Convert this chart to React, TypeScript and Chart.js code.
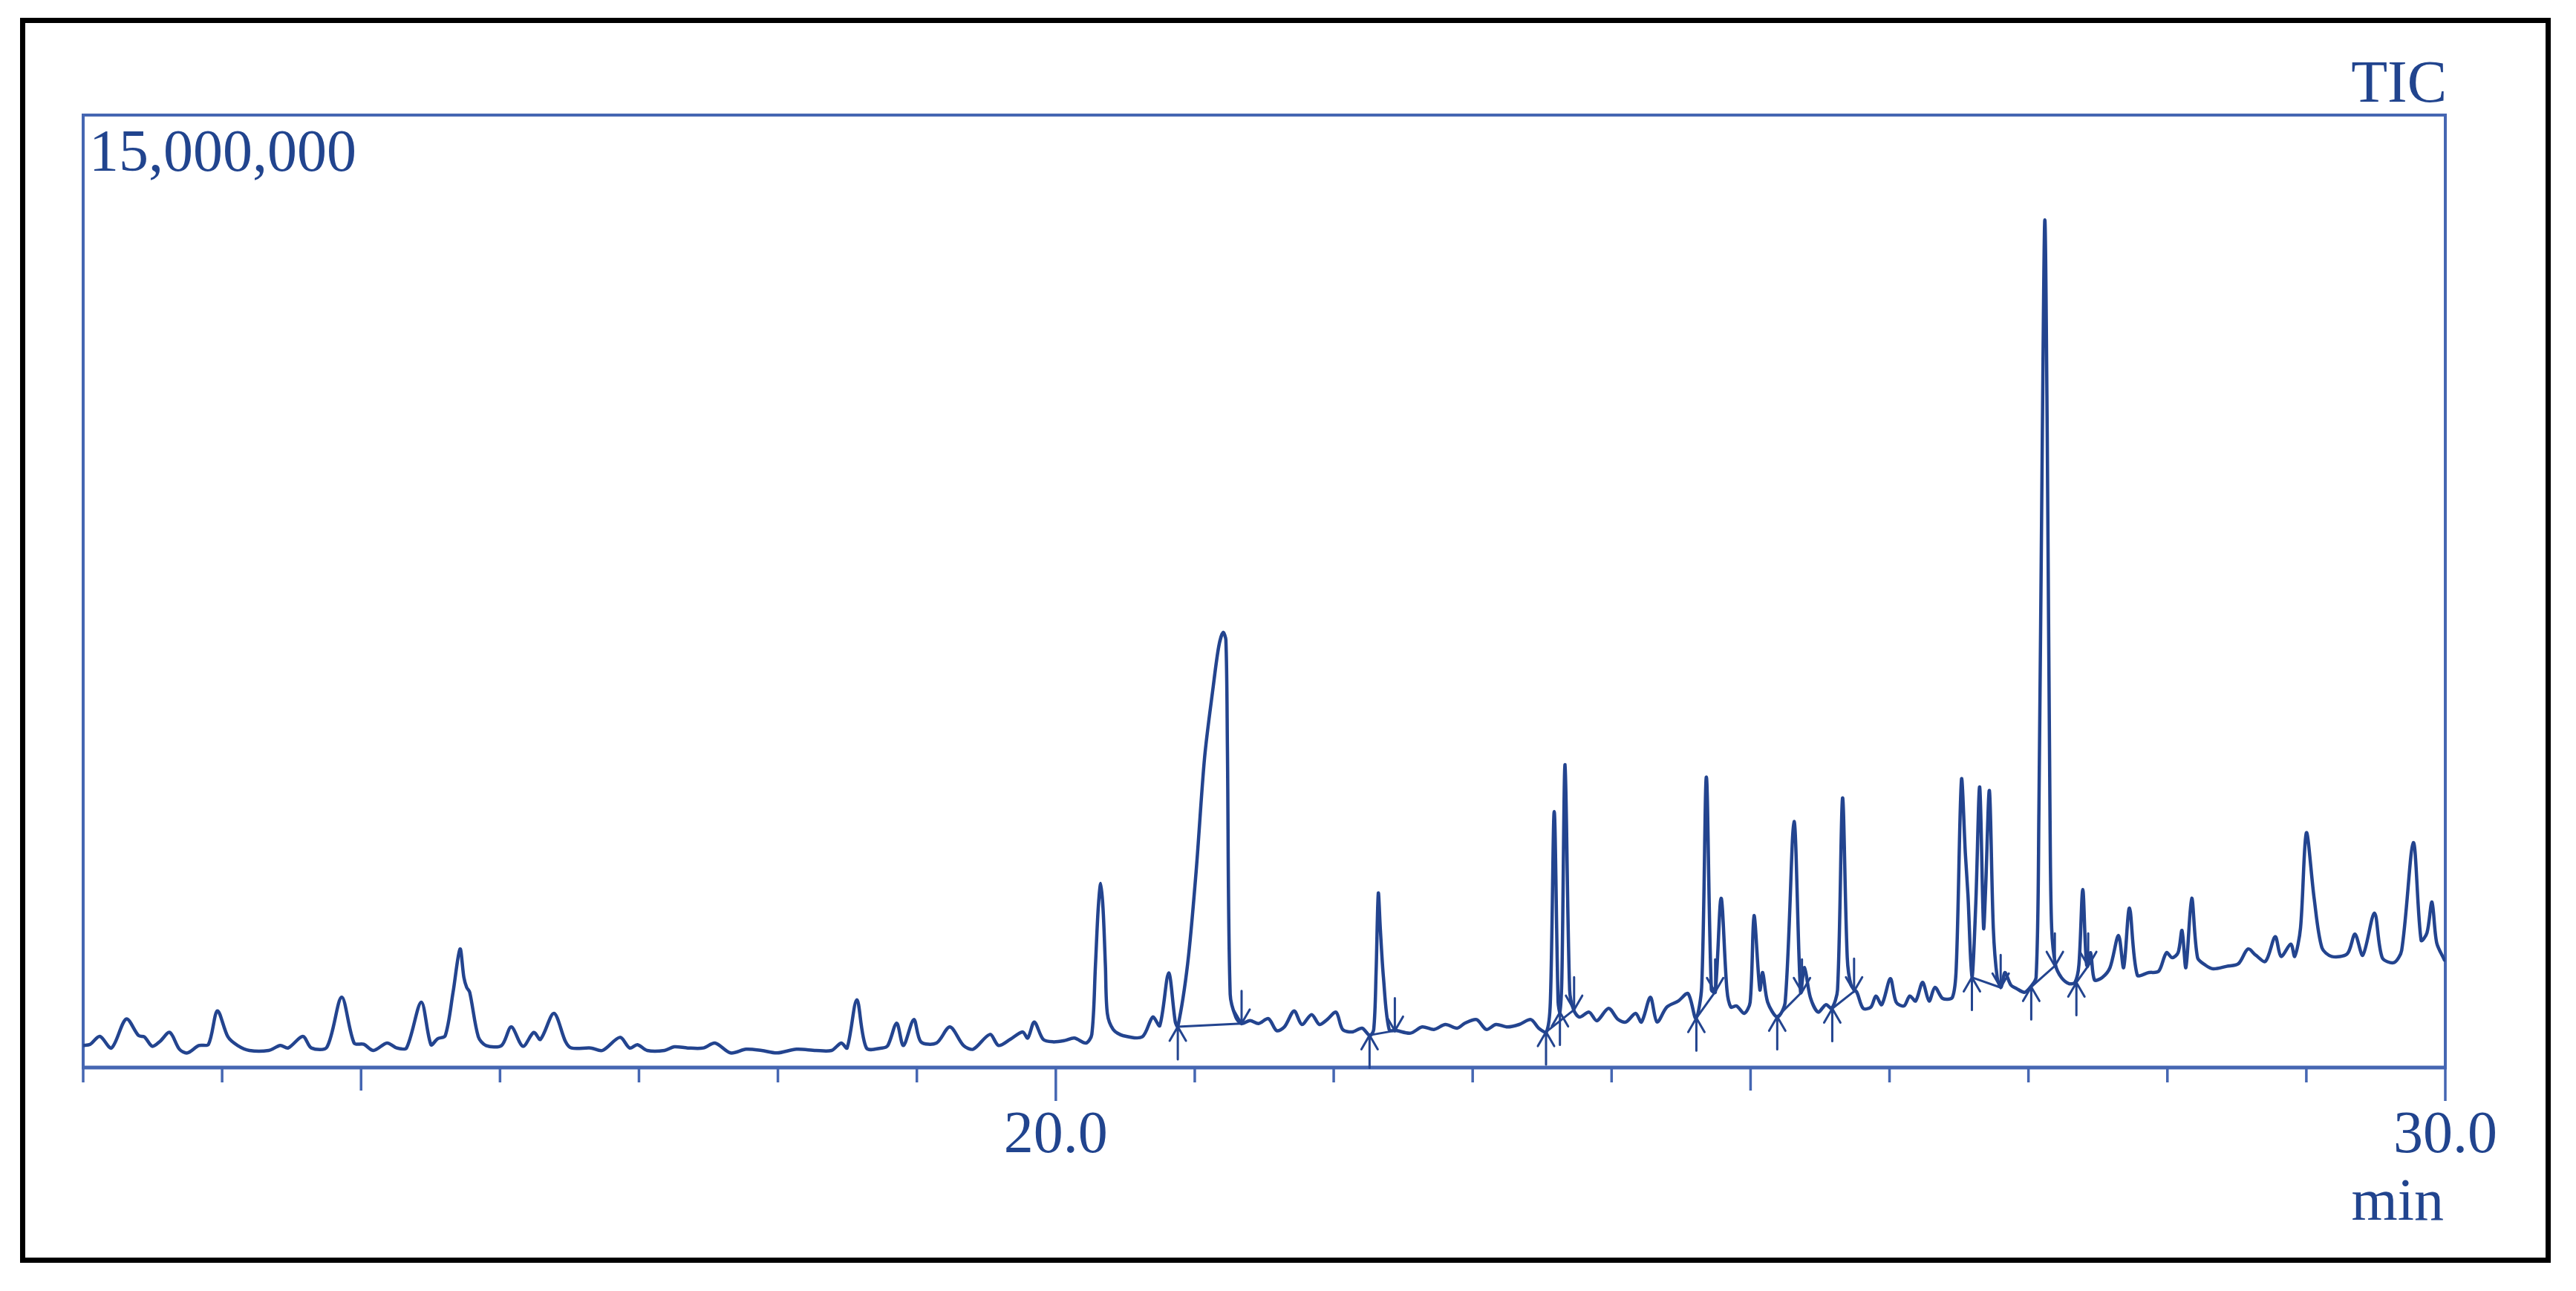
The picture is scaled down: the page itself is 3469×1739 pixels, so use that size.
import React, { useEffect, useRef } from "react";
import { Chart, registerables } from "chart.js";

Chart.register(...registerables);

// Retention time (min) and TIC intensity (millions of counts)
const retentionTime = [
  13.0, 13.05, 13.12, 13.204, 13.31, 13.399, 13.441, 13.497, 13.553, 13.623, 13.693, 13.749, 13.832, 13.902,
  13.966, 14.042, 14.112, 14.196, 14.335, 14.419, 14.475, 14.581, 14.642, 14.754, 14.86, 14.95, 15.02, 15.089,
  15.187, 15.257, 15.327, 15.433, 15.503, 15.55, 15.606, 15.662, 15.712, 15.74, 15.76, 15.782, 15.844, 15.899,
  16.011, 16.081, 16.165, 16.243, 16.291, 16.388, 16.472, 16.514, 16.654, 16.737, 16.863, 16.933, 16.989, 17.059,
  17.184, 17.254, 17.351, 17.463, 17.547, 17.659, 17.771, 17.883, 17.994, 18.134, 18.274, 18.386, 18.456, 18.498,
  18.568, 18.637, 18.749, 18.791, 18.855, 18.903, 18.978, 19.029, 19.141, 19.238, 19.336, 19.406, 19.526, 19.588,
  19.672, 19.761, 19.798, 19.845, 19.909, 19.979, 20.063, 20.133, 20.217, 20.259, 20.285, 20.305, 20.323, 20.34,
  20.357, 20.371, 20.413, 20.483, 20.622, 20.698, 20.748, 20.812, 20.86, 20.878, 20.949, 21.01, 21.071, 21.133,
  21.173, 21.204, 21.224, 21.235, 21.255, 21.296, 21.337, 21.398, 21.459, 21.53, 21.589, 21.645, 21.715, 21.771,
  21.841, 21.897, 21.953, 22.017, 22.064, 22.134, 22.204, 22.26, 22.288, 22.305, 22.321, 22.335, 22.358, 22.399,
  22.455, 22.553, 22.637, 22.721, 22.804, 22.888, 22.944, 23.028, 23.098, 23.168, 23.251, 23.335, 23.419, 23.475,
  23.531, 23.559, 23.587, 23.615, 23.628, 23.642, 23.665, 23.698, 23.726, 23.768, 23.838, 23.894, 23.978, 24.047,
  24.103, 24.173, 24.215, 24.279, 24.327, 24.397, 24.48, 24.55, 24.606, 24.648, 24.682, 24.718, 24.746, 24.788,
  24.83, 24.858, 24.899, 24.955, 24.997, 25.025, 25.067, 25.087, 25.123, 25.193, 25.249, 25.313, 25.36, 25.388,
  25.43, 25.486, 25.542, 25.584, 25.626, 25.662, 25.696, 25.723, 25.765, 25.81, 25.866, 25.902, 25.944, 26.006,
  26.048, 26.104, 26.146, 26.188, 26.238, 26.285, 26.327, 26.383, 26.453, 26.481, 26.518, 26.546, 26.565, 26.593,
  26.621, 26.649, 26.677, 26.691, 26.719, 26.747, 26.775, 26.803, 26.831, 26.873, 26.915, 26.971, 27.013, 27.055,
  27.075, 27.1, 27.118, 27.135, 27.155, 27.167, 27.195, 27.237, 27.293, 27.335, 27.363, 27.391, 27.419, 27.447,
  27.475, 27.531, 27.587, 27.648, 27.685, 27.727, 27.783, 27.867, 27.937, 27.993, 28.035, 28.077, 28.105, 28.133,
  28.175, 28.217, 28.273, 28.329, 28.427, 28.51, 28.58, 28.636, 28.706, 28.776, 28.818, 28.888, 28.916, 28.958,
  29.0, 29.056, 29.112, 29.182, 29.294, 29.35, 29.406, 29.49, 29.546, 29.63, 29.686, 29.77, 29.826, 29.868,
  29.904, 29.938, 29.994,
];

const ticMillions = [
  0.347, 0.366, 0.491, 0.308, 0.764, 0.503, 0.483, 0.335, 0.413, 0.553, 0.288, 0.23, 0.347, 0.366,
  0.892, 0.483, 0.347, 0.269, 0.269, 0.347, 0.308, 0.491, 0.308, 0.32, 1.107, 0.386, 0.366, 0.269,
  0.386, 0.308, 0.308, 1.029, 0.359, 0.452, 0.503, 1.185, 1.867, 1.418, 1.263, 1.185, 0.483, 0.347,
  0.347, 0.639, 0.335, 0.553, 0.444, 0.853, 0.405, 0.308, 0.308, 0.269, 0.475, 0.308, 0.359, 0.269,
  0.269, 0.327, 0.308, 0.308, 0.386, 0.23, 0.289, 0.269, 0.23, 0.289, 0.269, 0.269, 0.386, 0.308,
  1.068, 0.308, 0.308, 0.347, 0.698, 0.347, 0.756, 0.405, 0.386, 0.639, 0.347, 0.289, 0.522, 0.347,
  0.444, 0.561, 0.464, 0.717, 0.444, 0.405, 0.425, 0.464, 0.386, 0.522, 1.6, 2.5, 2.899, 2.5,
  1.6, 0.85, 0.6, 0.503, 0.483, 0.795, 0.659, 1.489, 0.717, 0.643, 1.638, 3.093, 4.888, 6.003,
  6.635, 6.852, 6.732, 5.033, 1.153, 0.789, 0.692, 0.74, 0.692, 0.77, 0.581, 0.639, 0.892, 0.678,
  0.834, 0.678, 0.756, 0.873, 0.6, 0.561, 0.62, 0.503, 0.6, 1.5, 2.744, 2.2, 1.418, 0.6,
  0.581, 0.542, 0.639, 0.6, 0.678, 0.62, 0.698, 0.756, 0.6, 0.678, 0.639, 0.678, 0.756, 0.62,
  0.561, 1.029, 4.03, 1.029, 0.873, 1.418, 4.77, 1.224, 0.912, 0.795, 0.873, 0.737, 0.932, 0.756,
  0.717, 0.853, 0.717, 1.107, 0.717, 0.951, 1.048, 1.165, 0.776, 1.263, 4.575, 1.224, 1.185, 2.666,
  1.224, 0.951, 0.97, 0.853, 1.029, 2.393, 1.224, 1.496, 1.029, 0.795, 1.029, 3.874, 1.185, 1.574,
  1.107, 0.873, 0.99, 0.932, 1.224, 4.244, 1.73, 1.301, 1.185, 0.932, 0.951, 1.126, 0.99, 1.399,
  1.029, 0.97, 1.126, 1.048, 1.341, 1.048, 1.263, 1.087, 1.107, 1.613, 4.536, 3.367, 2.704, 1.418,
  2.587, 4.419, 2.198, 2.782, 4.361, 2.198, 1.418, 1.263, 1.496, 1.301, 1.243, 1.185, 1.263, 1.418,
  4.0, 10.0, 13.35, 10.0, 4.0, 2.198, 1.613, 1.418, 1.321, 1.341, 1.613, 2.802, 1.613, 1.808,
  1.38, 1.418, 1.574, 2.081, 1.574, 2.51, 1.458, 1.496, 1.516, 1.808, 1.73, 1.808, 2.159, 1.574,
  2.666, 1.73, 1.613, 1.555, 1.594, 1.633, 1.867, 1.769, 1.672, 2.061, 1.75, 1.944, 1.75, 2.198,
  3.698, 2.666, 1.886, 1.75, 1.789, 2.101, 1.769, 2.432, 1.73, 1.652, 1.847, 3.542, 2.003, 2.12,
  2.607, 1.964, 1.692,
];

// Integration markers: peak start (up arrows) and peak end (down arrows)
const peakStartTime = [20.878, 22.258, 23.528, 23.628, 24.61, 25.192, 25.588, 26.593, 27.02, 27.345];
const peakStartLevel = [0.643, 0.51, 0.56, 0.87, 0.78, 0.8, 0.93, 1.42, 1.27, 1.34];
const peakEndTime = [21.337, 22.44, 23.73, 24.745, 25.37, 25.745, 26.8, 27.19, 27.43];
const peakEndLevel = [0.692, 0.58, 0.91, 1.19, 1.19, 1.2, 1.26, 1.6, 1.6];
// Baselines joining start index -> end index
const baselineStartIdx = [0, 1, 2, 4, 5, 6, 7, 8, 9];
const baselineEndIdx = [0, 1, 2, 3, 4, 5, 6, 7, 8];

// Axis
const xMin = 13.0;
const xMax = 30.0;
const yMaxMillions = 15;
const minuteTicks = [13, 14, 15, 16, 17, 18, 19, 20, 21, 22, 23, 24, 25, 26, 27, 28, 29, 30];
const midTicks = [15, 25];
const labelledTicks = [20, 30];
const labelledTickText = ["20.0", "30.0"];
const yMaxLabel = "15,000,000";
const traceLabel = "TIC";
const xUnit = "min";

const AXIS_COLOR = "#4566b2";
const TRACE_COLOR = "#23448f";
const TEXT_COLOR = "#21448e";
const FONT = '80px "Liberation Serif", "Times New Roman", serif';

const decorPlugin = {
  id: "decor",
  beforeDraw(chart: any) {
    const ctx = chart.ctx;
    ctx.save();
    ctx.fillStyle = "#ffffff";
    ctx.fillRect(0, 0, chart.width, chart.height);
    ctx.restore();
  },
  beforeDatasetsDraw(chart: any) {
    const ctx = chart.ctx;
    const xs = chart.scales.x;
    const ys = chart.scales.y;
    const left = xs.getPixelForValue(xMin);
    const right = xs.getPixelForValue(xMax);
    const top = ys.getPixelForValue(yMaxMillions);
    const bottom = ys.getPixelForValue(0);
    ctx.save();
    // outer black frame
    ctx.strokeStyle = "#000000";
    ctx.lineWidth = 7;
    ctx.strokeRect(30.5, 27.5, 3401, 1670);
    // plot box
    ctx.strokeStyle = AXIS_COLOR;
    ctx.lineWidth = 4;
    ctx.beginPath();
    ctx.moveTo(left, bottom);
    ctx.lineTo(left, top);
    ctx.lineTo(right, top);
    ctx.lineTo(right, bottom);
    ctx.stroke();
    ctx.lineWidth = 5;
    ctx.beginPath();
    ctx.moveTo(left - 2, bottom);
    ctx.lineTo(right + 2, bottom);
    ctx.stroke();
    // ticks
    ctx.lineWidth = 3.5;
    minuteTicks.forEach((t) => {
      const x = xs.getPixelForValue(t);
      let len = 20;
      if (midTicks.includes(t)) len = 31;
      if (labelledTicks.includes(t)) len = 45;
      ctx.beginPath();
      ctx.moveTo(x, bottom);
      ctx.lineTo(x, bottom + len);
      ctx.stroke();
    });
    // texts
    ctx.fillStyle = TEXT_COLOR;
    ctx.font = FONT;
    ctx.textBaseline = "alphabetic";
    ctx.textAlign = "center";
    labelledTicks.forEach((t, i) => {
      ctx.fillText(labelledTickText[i], xs.getPixelForValue(t), bottom + 114);
    });
    ctx.textAlign = "right";
    ctx.fillText(xUnit, right - 2, bottom + 205);
    ctx.fillText(traceLabel, right + 2, top - 18);
    ctx.textAlign = "left";
    ctx.fillText(yMaxLabel, left + 8, top + 75);
    ctx.restore();
  },
  afterDatasetsDraw(chart: any) {
    const ctx = chart.ctx;
    const xs = chart.scales.x;
    const ys = chart.scales.y;
    ctx.save();
    ctx.strokeStyle = TRACE_COLOR;
    ctx.lineWidth = 3;
    ctx.lineCap = "round";
    // baselines
    baselineStartIdx.forEach((si, k) => {
      const ei = baselineEndIdx[k];
      ctx.beginPath();
      ctx.moveTo(xs.getPixelForValue(peakStartTime[si]), ys.getPixelForValue(peakStartLevel[si]));
      ctx.lineTo(xs.getPixelForValue(peakEndTime[ei]), ys.getPixelForValue(peakEndLevel[ei]));
      ctx.stroke();
    });
    const arrow = (t: number, v: number, dir: number) => {
      const x = xs.getPixelForValue(t);
      const y = ys.getPixelForValue(v);
      ctx.beginPath();
      ctx.moveTo(x, y + dir * 44);
      ctx.lineTo(x, y);
      ctx.moveTo(x - 11, y + dir * 19);
      ctx.lineTo(x, y);
      ctx.lineTo(x + 11, y + dir * 19);
      ctx.stroke();
    };
    peakStartTime.forEach((t, i) => arrow(t, peakStartLevel[i], 1));
    peakEndTime.forEach((t, i) => arrow(t, peakEndLevel[i], -1));
    ctx.restore();
  },
};

export default function App() {
  const canvasRef = useRef<HTMLCanvasElement | null>(null);
  useEffect(() => {
    if (!canvasRef.current) return;
    const points = retentionTime.map((t, i) => ({ x: t, y: ticMillions[i] }));
    const chart = new Chart(canvasRef.current, {
      type: "line",
      data: {
        datasets: [
          {
            label: traceLabel,
            data: points,
            borderColor: TRACE_COLOR,
            borderWidth: 4.5,
            borderJoinStyle: "round",
            borderCapStyle: "round",
            pointRadius: 0,
            fill: false,
            tension: 0.3,
          } as any,
        ],
      },
      options: {
        animation: false,
        responsive: false,
        devicePixelRatio: 1,
        parsing: false,
        layout: { padding: { left: 112, right: 176, top: 155, bottom: 301 } },
        scales: {
          x: { type: "linear", min: xMin, max: xMax, display: false },
          y: { type: "linear", min: 0, max: yMaxMillions, display: false },
        },
        plugins: { legend: { display: false }, tooltip: { enabled: false } },
      },
      plugins: [decorPlugin],
    });
    return () => chart.destroy();
  }, []);
  return (
    <div style={{ position: "fixed", left: 0, top: 0, width: 3469, height: 1739, background: "#fff" }}>
      <canvas ref={canvasRef} width={3469} height={1739} style={{ display: "block" }} />
    </div>
  );
}
